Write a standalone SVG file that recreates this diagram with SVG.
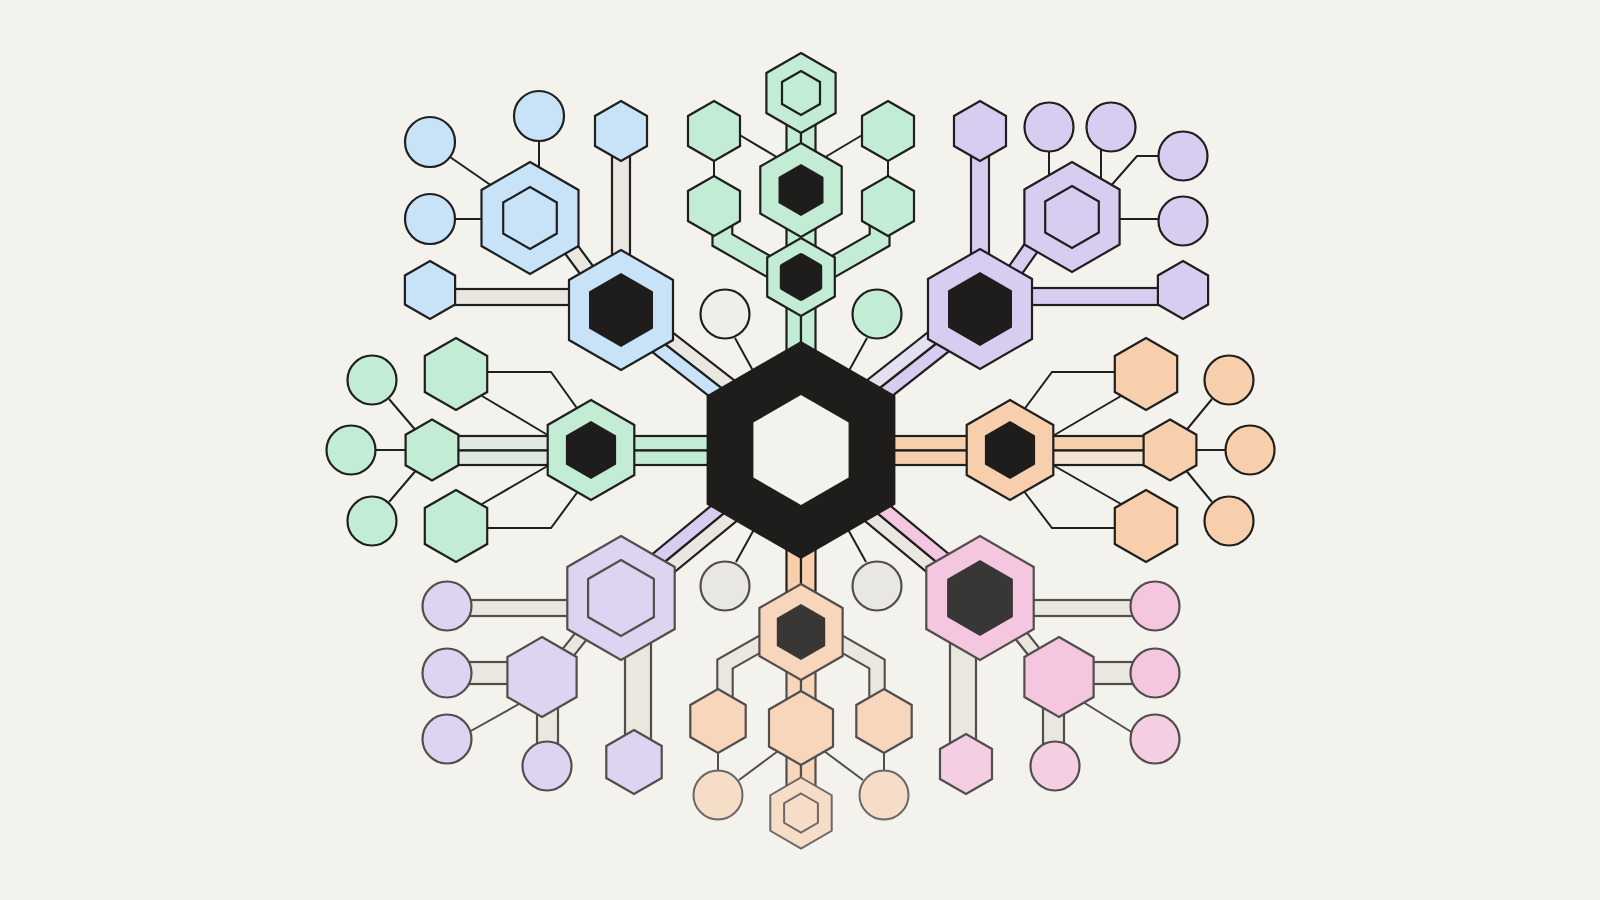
<svg xmlns="http://www.w3.org/2000/svg" width="1600" height="900" viewBox="0 0 1600 900">
<style>
.d{stroke:#1f1f1f;stroke-width:2.2;stroke-linejoin:miter}
.g{stroke:#524e4c;stroke-width:2.2;stroke-linejoin:miter}
.lt{stroke:#6c6866;stroke-width:2;stroke-linejoin:miter}
.ln{fill:none;stroke:#1f1f1f;stroke-width:2}
.lg{fill:none;stroke:#524e4c;stroke-width:2}
.blue{fill:#c8e3f7}
.green{fill:#c3ecd4}
.purple{fill:#d8cdf1}
.purple2{fill:#ddd4f1}
.orange{fill:#f8cfac}
.orange2{fill:#f7d6bb}
.orange3{fill:#f6ddc8}
.pink{fill:#f5c6df}
.pink2{fill:#f4cfe3}
.band{fill:#e9e7e0}
.greenish{fill:#dfe9df}
.lav{fill:#e4e0ef}
.cream{fill:#f3e3d3}
.blk{fill:#1e1d1b}
.blk2{fill:#383735}
.wc{fill:#efeeea}
.gc{fill:#e8e7e2}
</style>
<rect width="1600" height="900" fill="#f4f2ec"/>
<g id="connectors">
  <!-- blue group -->
  <rect class="band d" x="612" y="131" width="18" height="179"/>
  <rect class="band d" x="430" y="289" width="191" height="16"/>
  <g transform="translate(557,230) rotate(53.55)"><rect class="band d" x="0" y="-7.5" width="72" height="15"/></g>
  <g transform="translate(621,310) rotate(37.87)">
    <rect class="band d" x="0" y="-14" width="228" height="14"/>
    <rect class="blue d" x="0" y="0" width="228" height="14"/>
  </g>
  <line class="ln" x1="450" y1="157" x2="492" y2="186"/>
  <line class="ln" x1="539" y1="141" x2="539" y2="168"/>
  <line class="ln" x1="455" y1="219" x2="484" y2="219"/>
  <!-- top green group -->
  <rect class="green d" x="786.5" y="93" width="14.5" height="357"/>
  <rect class="green d" x="801" y="93" width="14.5" height="357"/>
  <path d="M722.4,206 V240 L801,285" fill="none" stroke="#1f1f1f" stroke-width="22" stroke-linejoin="miter"/>
  <path d="M722.4,206 V240 L801,285" fill="none" stroke="#c3ecd4" stroke-width="17.6" stroke-linejoin="miter"/>
  <path d="M879.6,206 V240 L801,285" fill="none" stroke="#1f1f1f" stroke-width="22" stroke-linejoin="miter"/>
  <path d="M879.6,206 V240 L801,285" fill="none" stroke="#c3ecd4" stroke-width="17.6" stroke-linejoin="miter"/>
  <line class="ln" x1="738" y1="134" x2="780" y2="159"/>
  <line class="ln" x1="864" y1="134" x2="822" y2="159"/>
  <line class="ln" x1="714" y1="160" x2="714" y2="177"/>
  <line class="ln" x1="888" y1="160" x2="888" y2="177"/>
  <!-- near-center circles -->
  <line class="ln" x1="735" y1="338" x2="757" y2="378"/>
  <line class="ln" x1="867" y1="338" x2="845" y2="378"/>
  <line class="ln" x1="736" y1="562" x2="757" y2="524"/>
  <line class="ln" x1="866" y1="562" x2="845" y2="524"/>
  <!-- purple top group -->
  <rect class="purple d" x="971" y="131" width="18" height="178"/>
  <rect class="purple d" x="980" y="288" width="203" height="17"/>
  <g transform="translate(1005,285) rotate(-54.94)"><rect class="purple d" x="0" y="-7.5" width="70" height="15"/></g>
  <g transform="translate(980,309) rotate(141.77)">
    <rect class="purple d" x="0" y="-14" width="228" height="14"/>
    <rect class="lav d" x="0" y="0" width="228" height="14"/>
  </g>
  <line class="ln" x1="1049" y1="151" x2="1049" y2="177"/>
  <line class="ln" x1="1101" y1="150" x2="1101" y2="181"/>
  <polyline class="ln" points="1159,156 1137,156 1109,188"/>
  <line class="ln" x1="1118" y1="219" x2="1159" y2="219"/>
  <!-- left green group -->
  <rect class="greenish d" x="432" y="436" width="159" height="14.5"/>
  <rect class="greenish d" x="432" y="450.5" width="159" height="14.5"/>
  <rect class="green d" x="591" y="436" width="210" height="14.5"/>
  <rect class="green d" x="591" y="450.5" width="210" height="14.5"/>
  <line class="ln" x1="389" y1="399" x2="418" y2="433"/>
  <line class="ln" x1="376" y1="450" x2="407" y2="450"/>
  <line class="ln" x1="389" y1="502" x2="418" y2="468"/>
  <polyline class="ln" points="486,372 551,372 579,411"/>
  <line class="ln" x1="482" y1="396" x2="551" y2="437"/>
  <polyline class="ln" points="486,528 551,528 579,490"/>
  <line class="ln" x1="482" y1="504" x2="551" y2="464"/>
  <!-- right orange group -->
  <rect class="orange d" x="801" y="436" width="209" height="14.5"/>
  <rect class="orange d" x="801" y="450.5" width="209" height="14.5"/>
  <rect class="orange d" x="1010" y="436" width="160" height="14.5"/>
  <rect class="cream d" x="1010" y="450.5" width="160" height="14.5"/>
  <line class="ln" x1="1212" y1="399" x2="1184" y2="433"/>
  <line class="ln" x1="1195" y1="450" x2="1226" y2="450"/>
  <line class="ln" x1="1212" y1="502" x2="1184" y2="468"/>
  <polyline class="ln" points="1116,372 1052,372 1023,411"/>
  <line class="ln" x1="1121" y1="396" x2="1051" y2="437"/>
  <polyline class="ln" points="1116,528 1052,528 1023,490"/>
  <line class="ln" x1="1121" y1="504" x2="1051" y2="464"/>
  <!-- bottom-left purple group -->
  <g transform="translate(621,598) rotate(-39.43)">
    <rect class="purple d" x="0" y="-14" width="233" height="14"/>
    <rect class="band d" x="0" y="0" width="233" height="14"/>
  </g>
  <rect class="band g" x="447" y="600" width="174" height="16"/>
  <rect class="band g" x="447" y="662" width="95" height="22"/>
  <rect class="band g" x="537" y="677" width="21" height="89"/>
  <rect class="band g" x="625" y="598" width="26" height="164"/>
  <g transform="translate(555,669) rotate(-51.6)"><rect class="band g" x="0" y="-6.5" width="68" height="13"/></g>
  <line class="lg" x1="469" y1="732" x2="519" y2="704"/>
  <!-- bottom orange group -->
  <rect class="orange d" x="786.5" y="450" width="14.5" height="182"/>
  <rect class="orange d" x="801" y="450" width="14.5" height="182"/>
  <rect class="orange2 g" x="786.5" y="632" width="14.5" height="181"/>
  <rect class="orange2 g" x="801" y="632" width="14.5" height="181"/>
  <path d="M790,627 L725,664 V721" fill="none" stroke="#524e4c" stroke-width="17.5" stroke-linejoin="miter"/>
  <path d="M790,627 L725,664 V721" fill="none" stroke="#ece7de" stroke-width="13.3" stroke-linejoin="miter"/>
  <path d="M812,627 L877,664 V721" fill="none" stroke="#524e4c" stroke-width="17.5" stroke-linejoin="miter"/>
  <path d="M812,627 L877,664 V721" fill="none" stroke="#ece7de" stroke-width="13.3" stroke-linejoin="miter"/>
  <line class="lg" x1="718" y1="752" x2="718" y2="772"/>
  <line class="lg" x1="884" y1="752" x2="884" y2="772"/>
  <line class="lg" x1="778" y1="751" x2="739" y2="780"/>
  <line class="lg" x1="824" y1="751" x2="863" y2="780"/>
  <!-- bottom-right pink group -->
  <g transform="translate(980,598) rotate(-140.42)">
    <rect class="band d" x="0" y="-14" width="232" height="14"/>
    <rect class="pink d" x="0" y="0" width="232" height="14"/>
  </g>
  <rect class="band g" x="980" y="600" width="175" height="16"/>
  <rect class="band g" x="1059" y="662" width="96" height="22"/>
  <rect class="band g" x="1043" y="677" width="21" height="89"/>
  <rect class="band g" x="950" y="598" width="26" height="166"/>
  <g transform="translate(1004,614) rotate(51.6)"><rect class="band g" x="0" y="-6.5" width="68" height="13"/></g>
  <line class="lg" x1="1083" y1="702" x2="1133" y2="733"/>
</g>
<g id="center">
  <polygon class="blk" points="801,341 895.4,395.5 895.4,504.5 801,559 706.6,504.5 706.6,395.5"/>
  <polygon fill="#f4f2ec" points="801,395 848.6,422.5 848.6,477.5 801,505 753.4,477.5 753.4,422.5"/>
</g>
<g id="blue-major"><polygon class="blue d" points="621,250 673,280 673,340 621,370 569,340 569,280"/><polygon class="blk" points="621,273 653,291.5 653,328.5 621,347 589,328.5 589,291.5"/></g>
<g id="blue-double"><polygon class="blue d" points="530,162 578.5,190 578.5,246 530,274 481.5,246 481.5,190"/><polygon class="blue d" points="530,187 556.8,202.5 556.8,233.5 530,249 503.2,233.5 503.2,202.5"/></g>
<g id="blue-hex-top"><polygon class="blue d" points="621,101 647,116 647,146 621,161 595,146 595,116"/></g>
<g id="blue-hex-left"><polygon class="blue d" points="430,261 455.1,275.5 455.1,304.5 430,319 404.9,304.5 404.9,275.5"/></g>
<g id="blue-c1"><circle class="blue d" cx="430" cy="142" r="25"/></g>
<g id="blue-c2"><circle class="blue d" cx="539" cy="116" r="25"/></g>
<g id="blue-c3"><circle class="blue d" cx="430" cy="219" r="25"/></g>

<g id="green-top-double"><polygon class="green d" points="801,53 835.6,73 835.6,113 801,133 766.4,113 766.4,73"/><polygon class="green d" points="801,71 820,82 820,104 801,115 782,104 782,82"/></g>
<g id="green-top-major"><polygon class="green d" points="801,143 841.7,166.5 841.7,213.5 801,237 760.3,213.5 760.3,166.5"/><polygon class="blk" points="801,164 823.5,177 823.5,203 801,216 778.5,203 778.5,177"/></g>
<g id="green-top-lower"><polygon class="green d" points="801,238 834.8,257.5 834.8,296.5 801,316 767.2,296.5 767.2,257.5"/><polygon class="blk" stroke="#1e1d1b" stroke-width="6" stroke-linejoin="round" points="801,256 819.2,266.5 819.2,287.5 801,298 782.8,287.5 782.8,266.5"/></g>
<g id="green-tl"><polygon class="green d" points="714,101 740,116 740,146 714,161 688,146 688,116"/></g>
<g id="green-bl"><polygon class="green d" points="714,176 740,191 740,221 714,236 688,221 688,191"/></g>
<g id="green-tr"><polygon class="green d" points="888,101 914,116 914,146 888,161 862,146 862,116"/></g>
<g id="green-br"><polygon class="green d" points="888,176 914,191 914,221 888,236 862,221 862,191"/></g>

<g id="purple-major"><polygon class="purple d" points="980,249 1032,279 1032,339 980,369 928,339 928,279"/><polygon class="blk" points="980,272 1012,290.5 1012,327.5 980,346 948,327.5 948,290.5"/></g>
<g id="purple-double"><polygon class="purple d" points="1072,162 1119.6,189.5 1119.6,244.5 1072,272 1024.4,244.5 1024.4,189.5"/><polygon class="purple d" points="1072,186 1098.8,201.5 1098.8,232.5 1072,248 1045.2,232.5 1045.2,201.5"/></g>
<g id="purple-hex-top"><polygon class="purple d" points="980,101 1006,116 1006,146 980,161 954,146 954,116"/></g>
<g id="purple-hex-right"><polygon class="purple d" points="1183,261 1208.1,275.5 1208.1,304.5 1183,319 1157.9,304.5 1157.9,275.5"/></g>
<g id="purple-c1"><circle class="purple d" cx="1049" cy="127" r="24.5"/></g>
<g id="purple-c2"><circle class="purple d" cx="1111" cy="127" r="24.5"/></g>
<g id="purple-c3"><circle class="purple d" cx="1183" cy="156" r="24.5"/></g>
<g id="purple-c4"><circle class="purple d" cx="1183" cy="221" r="24.5"/></g>

<g id="green-left-major"><polygon class="green d" points="591,400 634.3,425 634.3,475 591,500 547.7,475 547.7,425"/><polygon class="blk" points="591,421 616.1,435.5 616.1,464.5 591,479 565.9,464.5 565.9,435.5"/></g>
<g id="green-left-upper"><polygon class="green d" points="456,338 487.2,356 487.2,392 456,410 424.8,392 424.8,356"/></g>
<g id="green-left-lower"><polygon class="green d" points="456,490 487.2,508 487.2,544 456,562 424.8,544 424.8,508"/></g>
<g id="green-left-small"><polygon class="green d" points="432,419.5 458.4,434.75 458.4,465.25 432,480.5 405.6,465.25 405.6,434.75"/></g>
<g id="green-c1"><circle class="green d" cx="372" cy="380" r="24.5"/></g>
<g id="green-c2"><circle class="green d" cx="351" cy="450" r="24.5"/></g>
<g id="green-c3"><circle class="green d" cx="372" cy="521" r="24.5"/></g>

<g id="orange-right-major"><polygon class="orange d" points="1010,400 1053.3,425 1053.3,475 1010,500 966.7,475 966.7,425"/><polygon class="blk" points="1010,421 1035.1,435.5 1035.1,464.5 1010,479 984.9,464.5 984.9,435.5"/></g>
<g id="orange-right-upper"><polygon class="orange d" points="1146,338 1177.2,356 1177.2,392 1146,410 1114.8,392 1114.8,356"/></g>
<g id="orange-right-lower"><polygon class="orange d" points="1146,490 1177.2,508 1177.2,544 1146,562 1114.8,544 1114.8,508"/></g>
<g id="orange-right-small"><polygon class="orange d" points="1170,419.5 1196.4,434.75 1196.4,465.25 1170,480.5 1143.6,465.25 1143.6,434.75"/></g>
<g id="orange-c1"><circle class="orange d" cx="1229" cy="380" r="24.5"/></g>
<g id="orange-c2"><circle class="orange d" cx="1250" cy="450" r="24.5"/></g>
<g id="orange-c3"><circle class="orange d" cx="1229" cy="521" r="24.5"/></g>

<g id="center-c1"><circle class="wc d" cx="725" cy="314" r="24.5"/></g>
<g id="center-c2"><circle class="green d" cx="877" cy="314" r="24.5"/></g>
<g id="center-c3"><circle class="gc g" cx="725" cy="586" r="24.5"/></g>
<g id="center-c4"><circle class="gc g" cx="877" cy="586" r="24.5"/></g>

<g id="purple-bl-major"><polygon class="purple2 g" points="621,536 674.7,567 674.7,629 621,660 567.3,629 567.3,567"/><polygon class="purple2 g" points="621,560 653.9,579 653.9,617 621,636 588.1,617 588.1,579"/></g>
<g id="purple-bl-small"><polygon class="purple2 g" points="542,637 576.6,657 576.6,697 542,717 507.4,697 507.4,657"/></g>
<g id="purple-bl-bottom"><polygon class="purple2 g" points="634,730 661.7,746 661.7,778 634,794 606.3,778 606.3,746"/></g>
<g id="purple-bl-c1"><circle class="purple2 g" cx="447" cy="606" r="24.5"/></g>
<g id="purple-bl-c2"><circle class="purple2 g" cx="447" cy="673" r="24.5"/></g>
<g id="purple-bl-c3"><circle class="purple2 g" cx="447" cy="739" r="24.5"/></g>
<g id="purple-bl-c4"><circle class="purple2 g" cx="547" cy="766" r="24.5"/></g>

<g id="orange-bottom-major"><polygon class="orange2 g" points="801,584 842.6,608 842.6,656 801,680 759.4,656 759.4,608"/><polygon class="blk2" points="801,604 825.2,618 825.2,646 801,660 776.8,646 776.8,618"/></g>
<g id="orange-bottom-mid"><polygon class="orange2 g" points="801,691 833,709.5 833,746.5 801,765 769,746.5 769,709.5"/></g>
<g id="orange-bottom-left"><polygon class="orange2 g" points="718,689 745.7,705 745.7,737 718,753 690.3,737 690.3,705"/></g>
<g id="orange-bottom-right"><polygon class="orange2 g" points="884,689 911.7,705 911.7,737 884,753 856.3,737 856.3,705"/></g>
<g id="orange-bottom-double"><polygon class="orange3 lt" points="801,777.5 831.7,795.25 831.7,830.75 801,848.5 770.3,830.75 770.3,795.25"/><polygon class="orange3 lt" points="801,793.5 817.9,803.25 817.9,822.75 801,832.5 784.1,822.75 784.1,803.25"/></g>
<g id="orange-bottom-c1"><circle class="orange3 lt" cx="718" cy="795" r="24.5"/></g>
<g id="orange-bottom-c2"><circle class="orange3 lt" cx="884" cy="795" r="24.5"/></g>

<g id="pink-major"><polygon class="pink g" points="980,536 1033.7,567 1033.7,629 980,660 926.3,629 926.3,567"/><polygon class="blk2" points="980,560 1012.9,579 1012.9,617 980,636 947.1,617 947.1,579"/></g>
<g id="pink-small"><polygon class="pink g" points="1059,637 1093.6,657 1093.6,697 1059,717 1024.4,697 1024.4,657"/></g>
<g id="pink-bottom"><polygon class="pink2 g" points="966,734 992,749 992,779 966,794 940,779 940,749"/></g>
<g id="pink-c1"><circle class="pink g" cx="1155" cy="606" r="24.5"/></g>
<g id="pink-c2"><circle class="pink g" cx="1155" cy="673" r="24.5"/></g>
<g id="pink-c3"><circle class="pink2 g" cx="1155" cy="739" r="24.5"/></g>
<g id="pink-c4"><circle class="pink2 g" cx="1055" cy="766" r="24.5"/></g>
</svg>
